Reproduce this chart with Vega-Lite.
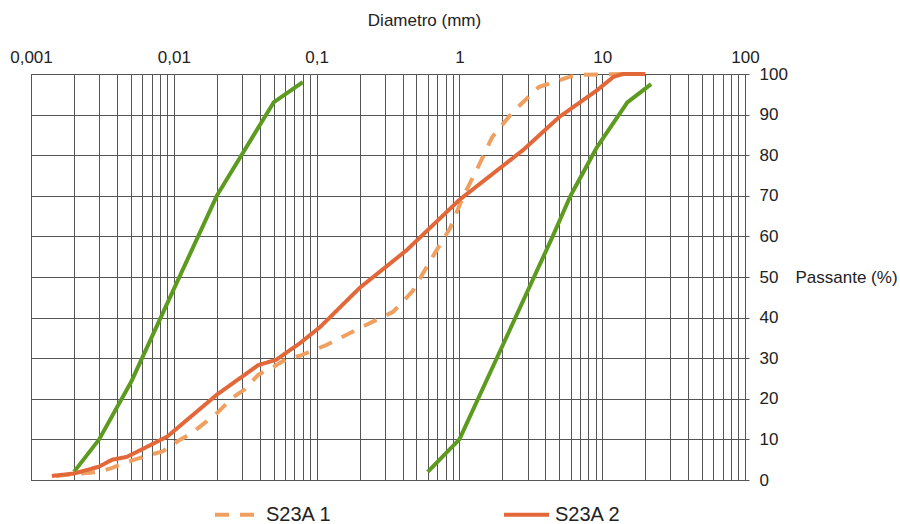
{
  "$schema": "https://vega.github.io/schema/vega-lite/v6.json",
  "width": 714,
  "height": 406,
  "autosize": {"type": "none"},
  "padding": {"left": 31, "top": 74, "right": 155, "bottom": 44},
  "background": "white",
  "config": {
    "font": "Liberation Sans",
    "view": {"stroke": "#444", "strokeWidth": 1},
    "axis": {"labelFont": "Liberation Sans", "titleFont": "Liberation Sans", "labelColor": "#222", "titleColor": "#222"}
  },
  "datasets": {
    "envelope": [
      {"env": "A", "d": 0.002, "p": 2},
      {"env": "A", "d": 0.003, "p": 10},
      {"env": "A", "d": 0.005, "p": 24},
      {"env": "A", "d": 0.01, "p": 47},
      {"env": "A", "d": 0.02, "p": 70},
      {"env": "A", "d": 0.05, "p": 93},
      {"env": "A", "d": 0.08, "p": 98},
      {"env": "B", "d": 0.6, "p": 2},
      {"env": "B", "d": 1, "p": 10},
      {"env": "B", "d": 2, "p": 33},
      {"env": "B", "d": 4.5, "p": 60},
      {"env": "B", "d": 6, "p": 70},
      {"env": "B", "d": 9.2, "p": 82},
      {"env": "B", "d": 15, "p": 93},
      {"env": "B", "d": 22, "p": 97.5}
    ],
    "samples": [
      {"series": "S23A  1", "d": 0.0015, "p": 1},
      {"series": "S23A  1", "d": 0.003, "p": 2},
      {"series": "S23A  1", "d": 0.0037, "p": 3},
      {"series": "S23A  1", "d": 0.0045, "p": 4.2},
      {"series": "S23A  1", "d": 0.0065, "p": 6},
      {"series": "S23A  1", "d": 0.0083, "p": 7},
      {"series": "S23A  1", "d": 0.0107, "p": 9.6},
      {"series": "S23A  1", "d": 0.0134, "p": 11.6},
      {"series": "S23A  1", "d": 0.0168, "p": 14.3},
      {"series": "S23A  1", "d": 0.0204, "p": 16.7},
      {"series": "S23A  1", "d": 0.0256, "p": 20.2},
      {"series": "S23A  1", "d": 0.0315, "p": 22.4},
      {"series": "S23A  1", "d": 0.039, "p": 25.9},
      {"series": "S23A  1", "d": 0.0495, "p": 27.8},
      {"series": "S23A  1", "d": 0.063, "p": 30},
      {"series": "S23A  1", "d": 0.0765, "p": 30.6},
      {"series": "S23A  1", "d": 0.118, "p": 33.3},
      {"series": "S23A  1", "d": 0.2, "p": 37.4},
      {"series": "S23A  1", "d": 0.343, "p": 41.4},
      {"series": "S23A  1", "d": 0.47, "p": 46.5},
      {"series": "S23A  1", "d": 0.65, "p": 55},
      {"series": "S23A  1", "d": 0.86, "p": 62},
      {"series": "S23A  1", "d": 1.06, "p": 69.7},
      {"series": "S23A  1", "d": 1.39, "p": 78},
      {"series": "S23A  1", "d": 1.7, "p": 84.5},
      {"series": "S23A  1", "d": 2.36, "p": 90.6},
      {"series": "S23A  1", "d": 3.6, "p": 96.8},
      {"series": "S23A  1", "d": 5.9, "p": 99.3},
      {"series": "S23A  1", "d": 7, "p": 99.8},
      {"series": "S23A  1", "d": 14, "p": 100},
      {"series": "S23A  2", "d": 0.0014, "p": 1},
      {"series": "S23A  2", "d": 0.002, "p": 1.6},
      {"series": "S23A  2", "d": 0.003, "p": 3.3},
      {"series": "S23A  2", "d": 0.0037, "p": 5},
      {"series": "S23A  2", "d": 0.0047, "p": 5.7},
      {"series": "S23A  2", "d": 0.009, "p": 10.7},
      {"series": "S23A  2", "d": 0.02, "p": 21},
      {"series": "S23A  2", "d": 0.039, "p": 28.3},
      {"series": "S23A  2", "d": 0.052, "p": 29.6},
      {"series": "S23A  2", "d": 0.0765, "p": 33.7},
      {"series": "S23A  2", "d": 0.106, "p": 37.7},
      {"series": "S23A  2", "d": 0.2, "p": 47.3},
      {"series": "S23A  2", "d": 0.43, "p": 56.7},
      {"series": "S23A  2", "d": 1, "p": 69},
      {"series": "S23A  2", "d": 2.8, "p": 81.3},
      {"series": "S23A  2", "d": 5, "p": 89.4},
      {"series": "S23A  2", "d": 9.2, "p": 96},
      {"series": "S23A  2", "d": 12, "p": 99.3},
      {"series": "S23A  2", "d": 14, "p": 100},
      {"series": "S23A  2", "d": 20, "p": 100}
    ]
  },
  "layer": [
    {
      "data": {"name": "envelope"},
      "mark": {"type": "line", "strokeWidth": 4, "color": "#5C9B1F", "strokeJoin": "round"},
      "encoding": {
        "x": {
          "field": "d", "type": "quantitative",
          "scale": {"type": "log", "domain": [0.001, 100], "nice": false},
          "axis": {
            "orient": "top",
            "title": "Diametro (mm)",
            "titleFontSize": 17, "titleFontWeight": "normal",
            "titleX": 393, "titleY": -54, "titleAlign": "center", "titleBaseline": "middle",
            "values": [0.001,0.002,0.003,0.004,0.005,0.006,0.007,0.008,0.009,0.01,0.02,0.03,0.04,0.05,0.06,0.07,0.08,0.09,0.1,0.2,0.3,0.4,0.5,0.6,0.7,0.8,0.9,1,2,3,4,5,6,7,8,9,10,20,30,40,50,60,70,80,90,100],
            "labelExpr": "datum.value == 0.001 ? '0,001' : datum.value == 0.01 ? '0,01' : datum.value == 0.1 ? '0,1' : datum.value == 1 ? '1' : datum.value == 10 ? '10' : datum.value == 100 ? '100' : ''",
            "labelOverlap": false, "labelFlush": false, "labelBound": false,
            "labelFontSize": 17, "labelPadding": 8,
            "ticks": false, "domain": false,
            "grid": true, "gridColor": "#555", "gridWidth": 1, "gridOpacity": 1
          }
        },
        "y": {
          "field": "p", "type": "quantitative",
          "scale": {"domain": [0, 100], "nice": false},
          "axis": {
            "orient": "right",
            "title": "Passante (%)",
            "titleFontSize": 17, "titleFontWeight": "normal", "titleAngle": 0,
            "titleX": 50, "titleY": 203, "titleAlign": "left", "titleBaseline": "middle",
            "values": [0,10,20,30,40,50,60,70,80,90,100],
            "labelFontSize": 17, "labelPadding": 10, "labelAlign": "left",
            "ticks": true, "tickSize": 4, "tickColor": "#555",
            "domain": false,
            "grid": true, "gridColor": "#555", "gridWidth": 1, "gridOpacity": 1
          }
        },
        "detail": {"field": "env", "type": "nominal"}
      }
    },
    {
      "data": {"name": "samples"},
      "mark": {"type": "line", "strokeWidth": 4, "strokeJoin": "round"},
      "encoding": {
        "x": {"field": "d", "type": "quantitative"},
        "y": {"field": "p", "type": "quantitative"},
        "color": {
          "field": "series", "type": "nominal",
          "scale": {"domain": ["S23A  1", "S23A  2"], "range": ["#EFA060", "#E2683A"]},
          "legend": {
            "title": null, "orient": "none", "direction": "horizontal",
            "legendX": 182, "legendY": 416,
            "symbolType": "stroke", "symbolSize": 2025, "symbolStrokeWidth": 4,
            "labelFontSize": 20, "labelColor": "#222", "labelOffset": 4,
            "columnPadding": 158
          }
        },
        "strokeDash": {
          "field": "series", "type": "nominal",
          "scale": {"domain": ["S23A  1", "S23A  2"], "range": [[14, 11], [1, 0]]},
          "legend": null
        }
      }
    }
  ]
}
